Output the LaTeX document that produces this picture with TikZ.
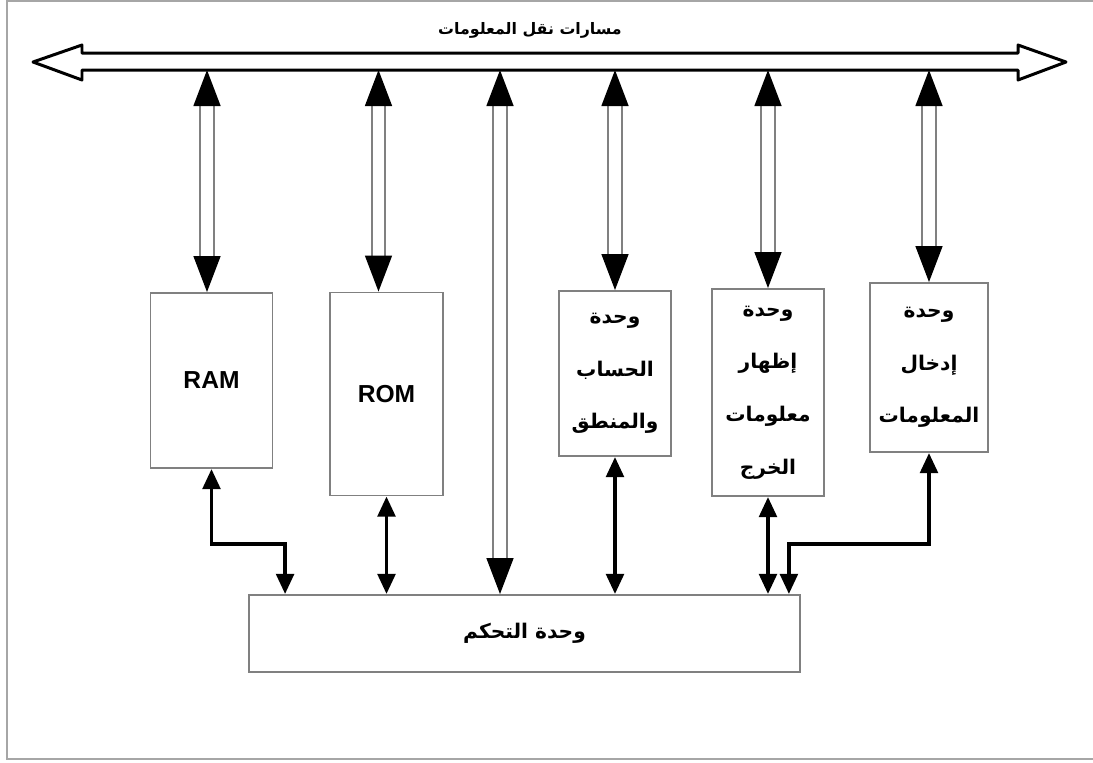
\documentclass[tikz,border=0pt]{standalone}
\usepackage{fontspec}
\usepackage{tikz}
\usetikzlibrary{arrows.meta}
\TeXXeTstate=1
\newfontfamily\arabicfont[Script=Arabic]{DejaVu Sans}
\newfontfamily\latinfont{Liberation Sans}

\begin{document}
\begin{tikzpicture}[x=0.02cm, y=-0.02cm,
    frame/.style={draw=black!35, line width=1.1pt},
    unitbox/.style={draw=black!50, line width=1.1pt, align=center, inner sep=0pt},
    artext/.style={font=\arabicfont\bfseries\fontsize{11.5}{30}\selectfont},
    bigarrow/.style={draw=black!50, double=white, double distance=6.8pt, line width=1.1pt,
      {Triangle[width=15.3pt,length=20.5pt,color=black]}-{Triangle[width=15.3pt,length=20.5pt,color=black]}},
    ctlarrow/.style={line width=2.2pt,
      {Triangle[width=10pt,length=11.5pt]}-{Triangle[width=10pt,length=11.5pt]}}]
  \useasboundingbox (0,0) rectangle (1093,762);
  % Frame
  \draw[frame] (7,1) rectangle (1110,759);
  % Bus
  \draw[line width=1.7pt, line join=round] (33,62) -- (82,45) -- (82,53) -- (1018,53) -- (1018,45)
    -- (1066,62) -- (1018,80) -- (1018,70) -- (82,70) -- (82,80) -- cycle;
  \coordinate (busbot) at (0,70);
  \node[font=\arabicfont\bfseries\fontsize{9}{11}\selectfont] (bustitle) at (530,30)
    {\beginR مسارات نقل المعلومات\endR};
  % Units
  \node[unitbox, minimum width=2.44cm, minimum height=3.5cm,
    font=\latinfont\bfseries\fontsize{14}{17}\selectfont] (ram) at (211.5,380.5) {RAM};
  \node[unitbox, minimum width=2.26cm, minimum height=4.06cm,
    font=\latinfont\bfseries\fontsize{14}{17}\selectfont] (rom) at (386.5,394) {ROM};
  \node[unitbox, artext, minimum width=2.24cm, minimum height=3.3cm] (alu) at (615,373.5)
    {\beginR وحدة\endR\\\beginR الحساب\endR\\\beginR والمنطق\endR};
  \node[unitbox, artext, minimum width=2.24cm, minimum height=4.14cm] (outunit) at (768,392.5)
    {\beginR وحدة\endR\\\beginR إظهار\endR\\\beginR معلومات\endR\\\beginR الخرج\endR};
  \node[unitbox, artext, minimum width=2.36cm, minimum height=3.38cm] (inunit) at (929,367.5)
    {\beginR وحدة\endR\\\beginR إدخال\endR\\\beginR المعلومات\endR};
  % - Control
  \node[unitbox, artext, minimum width=11.02cm, minimum height=1.54cm] (ctrl) at (524.5,633.5)
    {\beginR وحدة التحكم\endR};
  % Links to the bus
  \coordinate (ramtop) at ([xshift=-0.09cm]ram.north);
  \coordinate (romtop) at ([xshift=-0.16cm]rom.north);
  \foreach \u in {ramtop,romtop,alu.north,outunit.north,inunit.north}
    \draw[bigarrow] (\u |- busbot) -- (\u);
  \coordinate (midlink) at (500,70);
  \draw[bigarrow] (midlink) -- (midlink |- ctrl.north);
  % Links to the control unit
  \draw[ctlarrow] (ram.south) -- ++(0,75) -| ([xshift=0.74cm]ctrl.north west);
  \draw[ctlarrow] (rom.south) -- (rom.south |- ctrl.north);
  \draw[ctlarrow] (alu.south) -- (alu.south |- ctrl.north);
  \draw[ctlarrow] (outunit.south) -- (outunit.south |- ctrl.north);
  \draw[ctlarrow] (inunit.south) -- ++(0,91) -| ([xshift=-0.24cm]ctrl.north east);
\end{tikzpicture}
\end{document}
